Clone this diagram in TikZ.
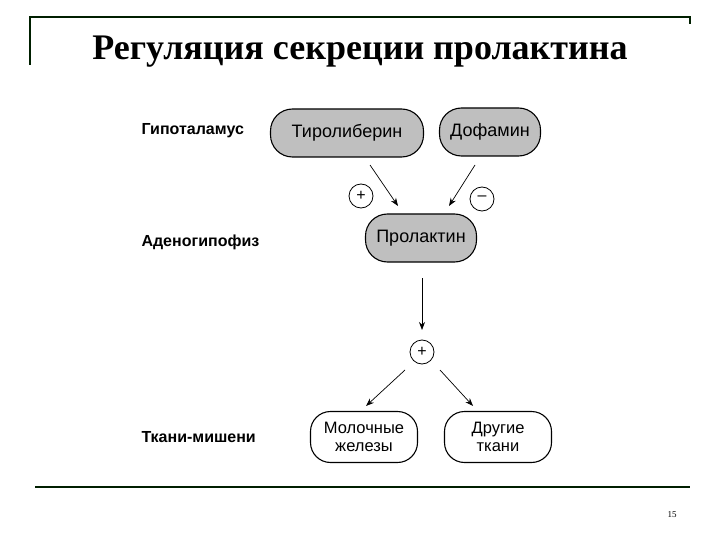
\documentclass[tikz,border=0pt]{standalone}
\usepackage{fontspec}
\setmainfont{Liberation Sans}
\newfontfamily\titlefont{Liberation Serif}
\usetikzlibrary{arrows.meta}
\begin{document}
\begin{tikzpicture}[x=1pt,y=-1pt,
 hbox/.style={draw,line width=1.1pt,rounded corners=22pt,fill=gray!50,font=\fontsize{18}{19}\selectfont,inner sep=0pt,minimum height=48pt},
 wbox/.style={draw,line width=1.1pt,rounded corners=20pt,fill=white,font=\fontsize{16.5}{18}\selectfont,align=center,inner sep=0pt,minimum height=51pt,minimum width=107pt},
 sgn/.style={draw,circle,line width=0.8pt,minimum size=24pt,inner sep=0pt,font=\fontsize{16}{16}\selectfont},
 lab/.style={anchor=west,font=\bfseries\fontsize{16}{17}\selectfont},
 arr/.style={-{Stealth[length=8pt,width=6pt]},line width=0.7pt}]
\useasboundingbox (0,0) rectangle (720,540);
\draw[line width=1.2pt,black!70!green!40!black] (30,65) -- (30,17) -- (690,17) -- (690,24);
\draw[line width=1.2pt,black!70!green!40!black] (35,487) -- (690,487);
\node[font=\titlefont\bfseries\fontsize{36}{38}\selectfont] (t) at (360,52) {Регуляция секреции пролактина};
\node[lab] (l1) at (138,131) {Гипоталамус};
\node[lab] (l2) at (138,242) {Аденогипофиз};
\node[lab] (l3) at (138,437) {Ткани-мишени};
\node[hbox,minimum width=153pt] (tr) at (347,133) {Тиролиберин};
\node[hbox,minimum width=101pt] (df) at (490,132) {Дофамин};
\node[hbox,minimum width=111pt] (pr) at (421,238) {Пролактин};
\node[sgn] (p1) at (361,196) {+};
\node[sgn] (m1) at (482,199) {\raisebox{0.2ex}{--}};
\node[sgn] (p2) at (422,352) {+};
\node[wbox] (mz) at (364,437) {Молочные\\железы};
\node[wbox] (dt) at (498,437) {Другие\\ткани};
\coordinate (a1) at (370,165); \coordinate (a1e) at (398,206);
\coordinate (a2) at (475,165); \coordinate (a2e) at (449,206);
\coordinate (c0) at (422,278); \coordinate (c1) at (422,330);
\coordinate (b1) at (405,370); \coordinate (b1e) at (366,406);
\coordinate (b2) at (440,370); \coordinate (b2e) at (473,406);
\draw[arr] (a1) -- (a1e);
\draw[arr] (a2) -- (a2e);
\draw[arr] (c0) -- (c1);
\draw[arr] (b1) -- (b1e);
\draw[arr] (b2) -- (b2e);
\node[font=\titlefont\fontsize{9}{9}\selectfont] (pg) at (672,515) {15};
\end{tikzpicture}
\end{document}
